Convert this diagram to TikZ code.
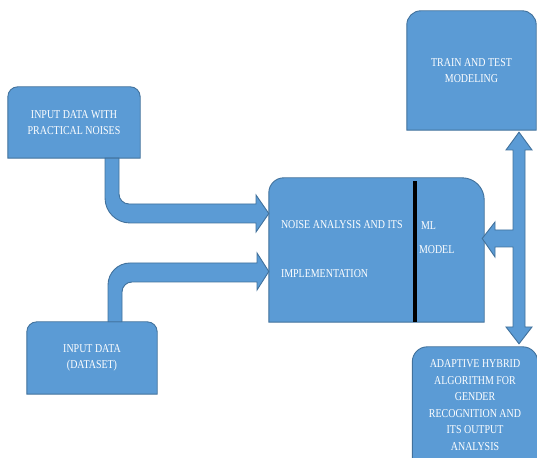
\documentclass[tikz,border=0pt]{standalone}
\usepackage{fontspec}
\setmainfont{Liberation Serif}[FakeStretch=0.83]
\usetikzlibrary{positioning, calc, backgrounds}
\definecolor{boxblue}{HTML}{5B9BD5}
\definecolor{edgeblue}{HTML}{41719C}

% box with rounded top corners: node, left radius, right radius
\newcommand{\topbox}[3]{%
  \filldraw[shapefill] (#1.south west) -- ([yshift=-#2]#1.north west)
    arc[start angle=180, end angle=90, radius=#2]
    -- ([xshift=-#3]#1.north east)
    arc[start angle=90, end angle=0, radius=#3]
    -- (#1.south east) -- cycle;}

\begin{document}
\begin{tikzpicture}[x=1pt, y=1pt,
  blk/.style={rectangle, inner sep=0pt, text=white, align=center,
    font={\fontsize{12}{16.5}\selectfont}},
  lbl/.style={inner sep=0pt, text=white, anchor=west,
    font={\fontsize{12}{14}\selectfont}},
  shapefill/.style={fill=boxblue, draw=edgeblue, line width=0.9pt}]
  \useasboundingbox (0,0) rectangle (537,457);

  % Boxes
  \node[blk, minimum width=132pt, minimum height=71pt] (noisy) at (74,334.5)
    {INPUT DATA WITH\\PRACTICAL NOISES};
  \node[blk, minimum width=130pt, minimum height=72pt] (dataset) at (92,99)
    {INPUT DATA\\(DATASET)};
  \node[blk, minimum width=129pt, minimum height=119pt] (train) at (471.5,386.5)
    {TRAIN AND TEST\\MODELING};
  \node[blk, minimum width=125pt, minimum height=116pt] (adaptive) at (475,52)
    {ADAPTIVE HYBRID\\ALGORITHM FOR\\GENDER\\RECOGNITION AND\\ITS OUTPUT\\ANALYSIS};
  \node[blk, minimum width=215pt, minimum height=144pt] (core) at (376.5,207) {};

  % Texts of the middle box
  \node[lbl] (noisetxt) at ([xshift=12pt, yshift=25pt]core.west)
    {NOISE ANALYSIS AND ITS};
  \node[lbl] (impltxt) at ([xshift=12pt, yshift=-24pt]core.west)
    {IMPLEMENTATION};
  \node[lbl] (mltxt) at ([xshift=152pt, yshift=24pt]core.west) {ML};
  \node[lbl] (modeltxt) at ([xshift=150pt]core.west) {MODEL};

  \begin{scope}[on background layer]
    \topbox{noisy}{10pt}{10pt}
    \topbox{dataset}{10pt}{10pt}
    \topbox{train}{14pt}{14pt}
    \topbox{adaptive}{15pt}{15pt}
    \topbox{core}{15pt}{22pt}
    \draw[line width=4pt] (core.south -| 414.5,0) -- ++(0,141);
  \end{scope}

  % Bent arrow from the noisy input
  \filldraw[shapefill] (noisy.south -| 105,0) -- (105,259)
    arc[start angle=180, end angle=270, radius=25] -- (256,234) -- (256,225)
    -- (core.west |- 0,243.5) -- (256,262) -- (256,253) -- (129,253)
    arc[start angle=270, end angle=180, radius=10]
    -- (noisy.south -| 119,0) -- cycle;

  % Bent arrow from the dataset
  \filldraw[shapefill] (dataset.north -| 108,0) -- (108,172)
    arc[start angle=180, end angle=90, radius=22] -- (257,194) -- (257,204)
    -- (core.west |- 0,185.5) -- (257,167) -- (257,175) -- (132,175)
    arc[start angle=90, end angle=180, radius=10]
    -- (dataset.north -| 122,0) -- cycle;

  % Double arrow with branch to the model
  \filldraw[shapefill] ($(train.south -| 519,0)+(0,-2)$) -- (532,307)
    -- (525,307) -- (525,130) -- (532,130)
    -- ($(adaptive.north -| 519,0)+(0,3)$) -- (506,130) -- (513,130)
    -- (513,210) -- (495,210) -- (495,200)
    -- ($(core.east |- 0,218.5)+(-2,0)$) -- (495,235) -- (495,227)
    -- (513,227) -- (513,307) -- (506,307) -- cycle;
\end{tikzpicture}
\end{document}
